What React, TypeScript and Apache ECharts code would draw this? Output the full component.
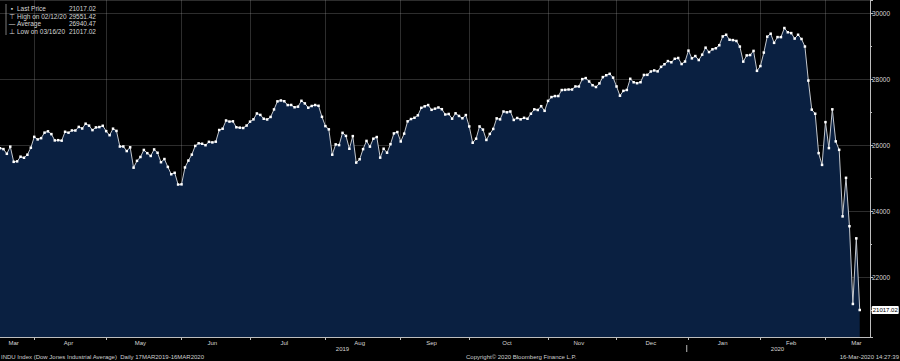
import React, { useEffect, useRef } from 'react';
import * as echarts from 'echarts';

// Trading days (day of month) for each month shown
const mar19Days = [18, 19, 20, 21, 22, 25, 26, 27, 28, 29];
const apr19Days = [1, 2, 3, 4, 5, 8, 9, 10, 11, 12, 15, 16, 17, 18, 22, 23, 24, 25, 26, 29, 30];
const may19Days = [1, 2, 3, 6, 7, 8, 9, 10, 13, 14, 15, 16, 17, 20, 21, 22, 23, 24, 28, 29, 30, 31];
const jun19Days = [3, 4, 5, 6, 7, 10, 11, 12, 13, 14, 17, 18, 19, 20, 21, 24, 25, 26, 27, 28];
const jul19Days = [1, 2, 3, 5, 8, 9, 10, 11, 12, 15, 16, 17, 18, 19, 22, 23, 24, 25, 26, 29, 30, 31];
const aug19Days = [1, 2, 5, 6, 7, 8, 9, 12, 13, 14, 15, 16, 19, 20, 21, 22, 23, 26, 27, 28, 29, 30];
const sep19Days = [3, 4, 5, 6, 9, 10, 11, 12, 13, 16, 17, 18, 19, 20, 23, 24, 25, 26, 27, 30];
const oct19Days = [1, 2, 3, 4, 7, 8, 9, 10, 11, 14, 15, 16, 17, 18, 21, 22, 23, 24, 25, 28, 29, 30, 31];
const nov19Days = [1, 4, 5, 6, 7, 8, 11, 12, 13, 14, 15, 18, 19, 20, 21, 22, 25, 26, 27, 29];
const dec19Days = [2, 3, 4, 5, 6, 9, 10, 11, 12, 13, 16, 17, 18, 19, 20, 23, 24, 26, 27, 30, 31];
const jan20Days = [2, 3, 6, 7, 8, 9, 10, 13, 14, 15, 16, 17, 21, 22, 23, 24, 27, 28, 29, 30, 31];
const feb20Days = [3, 4, 5, 6, 7, 10, 11, 12, 13, 14, 18, 19, 20, 21, 24, 25, 26, 27, 28];
const mar20Days = [2, 3, 4, 5, 6, 9, 10, 11, 12, 13, 16];

// Daily closes (INDU)
const mar19 = [25914, 25887, 25745, 25962, 25502, 25516, 25657, 25626, 25717, 25929];
const apr19 = [26258, 26180, 26218, 26385, 26425, 26341, 26150, 26157, 26143, 26412, 26384, 26452, 26450, 26559, 26511, 26656, 26597, 26462, 26543, 26554, 26593];
const may19 = [26430, 26308, 26505, 26438, 25965, 25967, 25828, 25942, 25325, 25532, 25648, 25862, 25764, 25680, 25877, 25776, 25490, 25586, 25348, 25126, 25170, 24815];
const jun19 = [24820, 25332, 25540, 25720, 25984, 26062, 26049, 26005, 26107, 26090, 26112, 26465, 26504, 26753, 26720, 26728, 26548, 26536, 26526, 26600];
const jul19 = [26718, 26787, 26966, 26922, 26806, 26784, 26860, 27088, 27332, 27359, 27336, 27220, 27223, 27154, 27172, 27349, 27270, 27140, 27192, 27221, 27198, 26864];
const aug19 = [26583, 26485, 25718, 26030, 26008, 26379, 26287, 25897, 26280, 25479, 25579, 25886, 26135, 25962, 26202, 26252, 25629, 25898, 25778, 26036, 26362, 26403];
const sep19 = [26118, 26355, 26728, 26797, 26835, 26909, 27137, 27182, 27220, 27076, 27111, 27147, 27095, 26935, 26950, 26808, 26970, 26891, 26820, 26917];
const oct19 = [26573, 26079, 26202, 26573, 26478, 26164, 26347, 26497, 26817, 26787, 27025, 27001, 27026, 26770, 26828, 26788, 26834, 26806, 26958, 27091, 27071, 27186, 27046];
const nov19 = [27347, 27462, 27492, 27493, 27675, 27681, 27691, 27691, 27784, 27782, 28005, 28036, 27934, 27821, 27767, 27876, 28066, 28122, 28165, 28051];
const dec19 = [27783, 27503, 27650, 27677, 28015, 27910, 27882, 27911, 28132, 28135, 28236, 28268, 28240, 28377, 28455, 28551, 28515, 28621, 28645, 28462, 28538];
const jan20 = [28868, 28634, 28703, 28583, 28745, 28957, 28824, 28907, 28940, 29030, 29298, 29348, 29196, 29186, 29160, 28990, 28535, 28723, 28734, 28859, 28256];
const feb20 = [28400, 28808, 29291, 29380, 29103, 29277, 29276, 29551.42, 29423, 29398, 29232, 29348, 29220, 28992, 27961, 27081, 26958, 25766, 25409];
const mar20 = [26703, 25917, 27091, 26121, 25865, 23851, 25018, 23553, 21200, 23186, 21017.02];

const monthNames = ['Mar', 'Apr', 'May', 'Jun', 'Jul', 'Aug', 'Sep', 'Oct', 'Nov', 'Dec', 'Jan', 'Feb', 'Mar'];
const monthNums = [3, 4, 5, 6, 7, 8, 9, 10, 11, 12, 1, 2, 3];
const monthYears = [19, 19, 19, 19, 19, 19, 19, 19, 19, 19, 20, 20, 20];
const yearLabels = ['2019', '2020'];

const statLabels = ['Last Price', 'High on 02/12/20', 'Average', 'Low on 03/16/20'];
const statValues = ['21017.02', '29551.42', '26940.47', '21017.02'];

const footerLeft = 'INDU Index (Dow Jones Industrial Average)  Daily 17MAR2019-16MAR2020';
const footerMid = 'Copyright\u00a9 2020 Bloomberg Finance L.P.';
const footerRight = '16-Mar-2020 14:27:39';

const dayLists = [mar19Days, apr19Days, may19Days, jun19Days, jul19Days, aug19Days, sep19Days, oct19Days, nov19Days, dec19Days, jan20Days, feb20Days, mar20Days];
const closeLists = [mar19, apr19, may19, jun19, jul19, aug19, sep19, oct19, nov19, dec19, jan20, feb20, mar20];

export default function App() {
  const ref = useRef<HTMLDivElement>(null);

  useEffect(() => {
    document.body.style.margin = '0';
    document.body.style.background = '#000';

    const cats: string[] = [];
    const values: (number | null)[] = [];
    const monthStarts: number[] = [];
    dayLists.forEach((days, m) => {
      monthStarts.push(cats.length);
      days.forEach((d, k) => {
        cats.push(`${String(monthNums[m]).padStart(2, '0')}/${String(d).padStart(2, '0')}/${monthYears[m]}`);
        values.push(closeLists[m][k]);
      });
    });
    const nReal = cats.length;
    for (let i = 0; i < 3; i++) { cats.push(''); values.push(null); }

    const labelMap: Record<number, string> = {};
    monthStarts.forEach((s, m) => {
      const e = m + 1 < monthStarts.length ? monthStarts[m + 1] - 1 : nReal - 1;
      const idx = m === monthStarts.length - 1 ? e - 1 : Math.floor((s + e) / 2);
      labelMap[idx] = monthNames[m];
    });
    const janStart = monthStarts[10];
    const yearIdx = [Math.floor((janStart - 1) / 2), Math.floor((janStart + cats.length - 1) / 2)];
    const boundarySet = new Set(monthStarts.filter((s) => s > 0));

    const lastVal = values[nReal - 1] as number;
    const font = 'Liberation Sans, Arial, sans-serif';
    const gridColor = 'rgba(160,160,160,0.28)';
    const axisColor = '#bdbdbd';
    const textColor = '#d6d6d6';

    const chart = echarts.init(ref.current!, null, { renderer: 'svg' });
    const legendGraphics: any[] = [];
    const rowY = [8.5, 16, 23.5, 31];
    const icons = ['\u25aa', '\u22a4', '\u2014', '\u22a5'];
    legendGraphics.push({
      type: 'line', shape: { x1: 6, y1: 4, x2: 6, y2: 35 },
      style: { stroke: '#9a9a9a', lineWidth: 0.8 },
    });
    statLabels.forEach((lab, i) => {
      legendGraphics.push({
        type: 'text', x: 12, y: rowY[i],
        style: { text: icons[i], fill: textColor, font: `6.5px ${font}`, textAlign: 'center', textVerticalAlign: 'middle' },
      });
      legendGraphics.push({
        type: 'text', x: 17, y: rowY[i],
        style: { text: lab, fill: textColor, font: `6.5px ${font}`, textAlign: 'left', textVerticalAlign: 'middle' },
      });
      legendGraphics.push({
        type: 'text', x: 96, y: rowY[i],
        style: { text: statValues[i], fill: textColor, font: `6.5px ${font}`, textAlign: 'right', textVerticalAlign: 'middle' },
      });
    });
    const footer = [
      { text: footerLeft, x: 1, align: 'left' },
      { text: footerMid, x: 466, align: 'left' },
      { text: footerRight, x: 899, align: 'right' },
    ].map((f) => ({
      type: 'text', x: f.x, y: 357,
      style: { text: f.text, fill: '#cfcfcf', font: `6px ${font}`, textAlign: f.align, textVerticalAlign: 'middle' },
    }));

    chart.setOption({
      animation: false,
      backgroundColor: '#000000',
      grid: { left: 0, right: 30, top: 0, bottom: 24, containLabel: false },
      xAxis: {
        type: 'category',
        data: cats,
        boundaryGap: false,
        axisLine: { show: true, lineStyle: { color: axisColor, width: 1 } },
        axisTick: { show: true, length: 3, interval: (i: number) => boundarySet.has(i), lineStyle: { color: axisColor } },
        axisLabel: {
          interval: (i: number) => labelMap[i] !== undefined,
          formatter: (_v: string, i: number) => labelMap[i] || '',
          color: textColor, fontSize: 6, fontFamily: font, margin: 3,
        },
        splitLine: { show: true, interval: (i: number) => boundarySet.has(i), lineStyle: { color: gridColor, width: 1 } },
      },
      yAxis: {
        type: 'value',
        position: 'right',
        min: 20200,
        max: 30400,
        splitNumber: 5,
        axisLine: { show: true, lineStyle: { color: axisColor, width: 1 } },
        axisTick: { show: true, length: 3, lineStyle: { color: axisColor } },
        minorTick: { show: true, splitNumber: 2, length: 2, lineStyle: { color: axisColor } },
        axisLabel: {
          color: textColor, fontSize: 6.5, fontFamily: font, margin: 2,
          showMinLabel: false, showMaxLabel: false,
          formatter: (v: number) => String(v),
        },
        splitLine: { show: true, lineStyle: { color: gridColor, width: 1 } },
      },
      series: [
        {
          type: 'line',
          data: values,
          symbol: 'rect',
          symbolSize: 2.5,
          showAllSymbol: true,
          itemStyle: { color: '#ffffff' },
          lineStyle: { color: '#c4c8ce', width: 1 },
          areaStyle: { color: '#0a2041', opacity: 1, origin: 'start' },
          endLabel: {
            show: true,
            formatter: () => lastVal.toFixed(2),
            backgroundColor: '#ffffff',
            color: '#000000',
            fontSize: 6,
            fontFamily: font,
            padding: [1, 1, 1, 1],
            borderRadius: 1,
            distance: 12,
          },
        },
      ],
      graphic: [...legendGraphics, ...footer],
    });

    // year row under the month labels, placed through the axis scale
    const px = (i: number) => chart.convertToPixel({ xAxisIndex: 0 }, i) as number;
    const axisY = chart.convertToPixel({ yAxisIndex: 0 }, 20200) as number;
    const sepX = px(janStart) - 1.7;
    const yearTexts = yearLabels.map((t, k) => ({
      type: 'text', x: px(yearIdx[k]), y: axisY + 12,
      style: { text: t, fill: textColor, font: `6px ${font}`, textAlign: 'center', textVerticalAlign: 'middle' },
    }));
    chart.setOption({
      graphic: [
        ...legendGraphics,
        ...footer,
        ...yearTexts,
        {
          type: 'line', shape: { x1: sepX, y1: axisY + 8, x2: sepX, y2: axisY + 15 },
          style: { stroke: axisColor, lineWidth: 1 },
        },
      ],
    });
    return () => chart.dispose();
  }, []);

  return <div ref={ref} style={{ width: 900, height: 361, background: '#000', position: 'fixed', left: 0, top: 0 }} />;
}
